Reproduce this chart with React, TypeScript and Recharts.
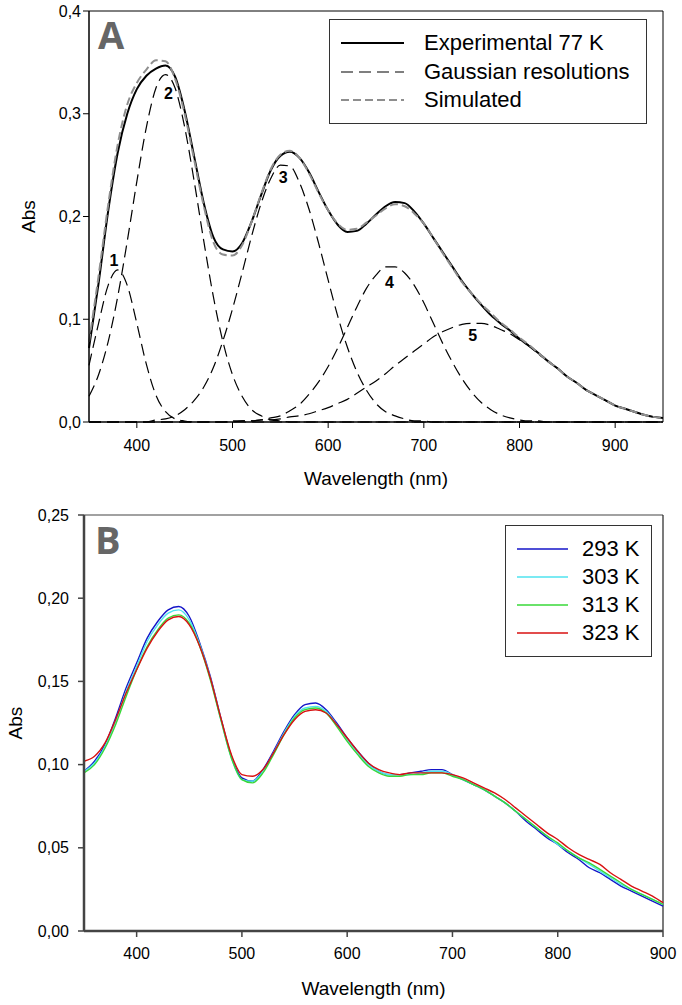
import React from 'react';
import { LineChart, Line, XAxis, YAxis, ReferenceLine, ReferenceDot, Label } from 'recharts';

// Panel A: 77 K spectrum and its gaussian resolution
const wlA = [
  350, 360, 370, 380, 390, 400, 410, 420, 430, 440,
  450, 460, 470, 480, 490, 500, 510, 520, 530, 540,
  550, 560, 570, 580, 590, 600, 610, 620, 630, 640,
  650, 660, 670, 680, 690, 700, 710, 720, 730, 740,
  750, 760, 770, 780, 790, 800, 810, 820, 830, 840,
  850, 860, 870, 880, 890, 900, 910, 920, 930, 940,
  950,
];
const expA = [
  0.072, 0.135, 0.205, 0.262, 0.300, 0.324, 0.337, 0.344, 0.347, 0.336,
  0.303, 0.258, 0.213, 0.180, 0.168, 0.166, 0.174, 0.195, 0.221, 0.245,
  0.259, 0.263, 0.257, 0.243, 0.224, 0.206, 0.192, 0.185, 0.186, 0.193,
  0.202, 0.210, 0.214, 0.213, 0.205, 0.193, 0.179, 0.165, 0.151, 0.137,
  0.125, 0.114, 0.104, 0.096, 0.089, 0.081, 0.074, 0.067, 0.059, 0.052,
  0.044, 0.038, 0.031, 0.026, 0.021, 0.016, 0.013, 0.010, 0.007, 0.005,
  0.004,
];
const simA = [
  0.078, 0.142, 0.211, 0.270, 0.309, 0.330, 0.343, 0.352, 0.351, 0.334,
  0.300, 0.255, 0.210, 0.175, 0.163, 0.162, 0.172, 0.195, 0.222, 0.246,
  0.260, 0.264, 0.257, 0.242, 0.223, 0.206, 0.193, 0.187, 0.188, 0.194,
  0.201, 0.208, 0.212, 0.210, 0.203, 0.193, 0.179, 0.164, 0.150, 0.136,
  0.125, 0.115, 0.106, 0.097, 0.090, 0.082, 0.075, 0.067, 0.059, 0.052,
  0.044, 0.038, 0.031, 0.026, 0.021, 0.016, 0.013, 0.010, 0.007, 0.005,
  0.004,
];
const g1 = [
  0.055, 0.096, 0.133, 0.148, 0.133, 0.096, 0.056, 0.026, 0.010, 0.003,
  0.001, 0, 0, 0, 0, 0, 0, 0, 0, 0,
  0, 0, 0, 0, 0, 0, 0, 0, 0, 0,
  0, 0, 0, 0, 0, 0, 0, 0, 0, 0,
  0, 0, 0, 0, 0, 0, 0, 0, 0, 0,
  0, 0, 0, 0, 0, 0, 0, 0, 0, 0,
  0,
];
const g2 = [
  0.025, 0.046, 0.078, 0.122, 0.176, 0.234, 0.287, 0.325, 0.338, 0.325,
  0.287, 0.234, 0.176, 0.122, 0.078, 0.046, 0.025, 0.012, 0.006, 0.002,
  0.001, 0, 0, 0, 0, 0, 0, 0, 0, 0,
  0, 0, 0, 0, 0, 0, 0, 0, 0, 0,
  0, 0, 0, 0, 0, 0, 0, 0, 0, 0,
  0, 0, 0, 0, 0, 0, 0, 0, 0, 0,
  0,
];
const g3 = [
  0, 0, 0, 0, 0, 0, 0, 0.002, 0.003, 0.006,
  0.012, 0.021, 0.034, 0.053, 0.079, 0.110, 0.145, 0.181, 0.213, 0.237,
  0.250, 0.249, 0.233, 0.207, 0.174, 0.138, 0.103, 0.073, 0.049, 0.031,
  0.018, 0.010, 0.006, 0.003, 0.001, 0.001, 0, 0, 0, 0,
  0, 0, 0, 0, 0, 0, 0, 0, 0, 0,
  0, 0, 0, 0, 0, 0, 0, 0, 0, 0,
  0,
];
const g4 = [
  0, 0, 0, 0, 0, 0, 0, 0, 0, 0,
  0, 0, 0, 0, 0, 0, 0.001, 0.001, 0.002, 0.004,
  0.006, 0.011, 0.017, 0.027, 0.039, 0.054, 0.072, 0.092, 0.112, 0.130,
  0.143, 0.151, 0.151, 0.145, 0.133, 0.116, 0.096, 0.076, 0.058, 0.042,
  0.029, 0.019, 0.012, 0.007, 0.004, 0.002, 0.001, 0.001, 0, 0,
  0, 0, 0, 0, 0, 0, 0, 0, 0, 0,
  0,
];
const g5 = [
  0, 0, 0, 0, 0, 0, 0, 0, 0, 0,
  0, 0, 0, 0, 0, 0.001, 0.001, 0.001, 0.002, 0.002,
  0.003, 0.005, 0.006, 0.008, 0.011, 0.014, 0.018, 0.022, 0.028, 0.034,
  0.040, 0.047, 0.055, 0.062, 0.069, 0.076, 0.083, 0.088, 0.092, 0.095,
  0.096, 0.096, 0.094, 0.090, 0.086, 0.080, 0.074, 0.066, 0.059, 0.052,
  0.044, 0.038, 0.031, 0.026, 0.021, 0.016, 0.013, 0.010, 0.007, 0.005,
  0.004,
];
const peakNames = ['1', '2', '3', '4', '5'];
const peakWl = [376, 433, 553, 664, 751];
const peakAbs = [0.157, 0.320, 0.238, 0.136, 0.084];

const xTicksA = [400, 500, 600, 700, 800, 900];
const yTicksA = [0, 0.1, 0.2, 0.3, 0.4];

// Panel B: temperature series
const wlB = [
  350, 360, 370, 380, 390, 400, 410, 420, 430, 440,
  450, 460, 470, 480, 490, 500, 510, 520, 530, 540,
  550, 560, 570, 580, 590, 600, 610, 620, 630, 640,
  650, 660, 670, 680, 690, 700, 710, 720, 730, 740,
  750, 760, 770, 780, 790, 800, 810, 820, 830, 840,
  850, 860, 870, 880, 890, 900,
];
const abs293 = [
  0.096, 0.102, 0.112, 0.128, 0.146, 0.161, 0.176, 0.186, 0.193, 0.195,
  0.189, 0.173, 0.153, 0.128, 0.105, 0.092, 0.090, 0.097, 0.108, 0.120,
  0.130, 0.136, 0.137, 0.133, 0.125, 0.116, 0.108, 0.101, 0.096, 0.094,
  0.094, 0.095, 0.096, 0.097, 0.097, 0.094, 0.091, 0.088, 0.085, 0.081,
  0.077, 0.072, 0.066, 0.061, 0.056, 0.052, 0.047, 0.043, 0.038, 0.035,
  0.031, 0.027, 0.024, 0.021, 0.018, 0.015,
];
const abs303 = [
  0.096, 0.101, 0.111, 0.126, 0.144, 0.159, 0.174, 0.184, 0.191, 0.193,
  0.187, 0.172, 0.152, 0.127, 0.104, 0.091, 0.090, 0.096, 0.107, 0.119,
  0.129, 0.134, 0.135, 0.132, 0.124, 0.115, 0.107, 0.100, 0.096, 0.094,
  0.094, 0.094, 0.095, 0.096, 0.096, 0.094, 0.091, 0.088, 0.085, 0.081,
  0.077, 0.072, 0.067, 0.062, 0.057, 0.052, 0.048, 0.044, 0.040, 0.036,
  0.032, 0.028, 0.025, 0.022, 0.019, 0.016,
];
const abs313 = [
  0.095, 0.100, 0.110, 0.124, 0.141, 0.157, 0.171, 0.181, 0.188, 0.190,
  0.185, 0.171, 0.151, 0.127, 0.104, 0.091, 0.089, 0.095, 0.106, 0.118,
  0.128, 0.133, 0.134, 0.131, 0.123, 0.114, 0.106, 0.099, 0.095, 0.093,
  0.093, 0.094, 0.094, 0.095, 0.095, 0.093, 0.091, 0.088, 0.085, 0.081,
  0.077, 0.072, 0.067, 0.062, 0.057, 0.053, 0.048, 0.044, 0.041, 0.037,
  0.033, 0.029, 0.025, 0.022, 0.019, 0.016,
];
const abs323 = [
  0.102, 0.105, 0.113, 0.127, 0.143, 0.157, 0.170, 0.180, 0.187, 0.189,
  0.184, 0.171, 0.152, 0.128, 0.106, 0.094, 0.093, 0.097, 0.107, 0.118,
  0.127, 0.132, 0.133, 0.131, 0.124, 0.116, 0.108, 0.101, 0.097, 0.095,
  0.094, 0.095, 0.095, 0.095, 0.095, 0.094, 0.092, 0.089, 0.086, 0.083,
  0.079, 0.074, 0.069, 0.064, 0.059, 0.055, 0.050, 0.046, 0.043, 0.040,
  0.035, 0.031, 0.027, 0.024, 0.021, 0.017,
];
const seriesB = ['293 K', '303 K', '313 K', '323 K'];
const colorsB = ['#1515c8', '#4fe3ef', '#38d838', '#d81010'];

const xTicksB = [400, 500, 600, 700, 800, 900];
const yTicksB = [0, 0.05, 0.1, 0.15, 0.2, 0.25];

const rowsA = wlA.map((wl, i) => ({
  wl, exp: expA[i], sim: simA[i], g1: g1[i], g2: g2[i], g3: g3[i], g4: g4[i], g5: g5[i],
}));
const rowsB = wlB.map((wl, i) => ({
  wl, k293: abs293[i], k303: abs303[i], k313: abs313[i], k323: abs323[i],
}));
const keysB = ['k293', 'k303', 'k313', 'k323'];

const FONT = '"Liberation Sans", Arial, sans-serif';
const tick = { fill: '#000', fontSize: 16, fontFamily: FONT };
const titleStyle = { fontSize: 19, fontFamily: FONT, fill: '#000' };
const comma = (d: number) => (v: number) => v.toFixed(d).replace('.', ',');

const GAUSS_DASH = '12 6';
const SIM_DASH = '8 4';
const SIM_COLOR = '#8e8e8e';

const panelLetter: React.CSSProperties = {
  position: 'absolute',
  fontFamily: '"Open Sans", "Noto Sans", sans-serif',
  fontWeight: 700,
  fontSize: 38,
  lineHeight: 1,
  color: '#666',
};

const legendText: React.CSSProperties = { fontFamily: FONT, fontSize: 22, color: '#000', whiteSpace: 'nowrap' };

export default function App() {
  const legendA = [
    { label: 'Experimental 77 K', color: '#000', dash: undefined, w: 2 },
    { label: 'Gaussian resolutions', color: '#000', dash: GAUSS_DASH, w: 1.2 },
    { label: 'Simulated', color: SIM_COLOR, dash: SIM_DASH, w: 2 },
  ];

  return (
    <div style={{ position: 'absolute', left: 0, top: 0, width: 682, height: 1005, background: '#fff' }}>
      {/* Panel A */}
      <div style={{ position: 'absolute', left: 0, top: 0 }}>
        <LineChart width={682} height={500} data={rowsA} margin={{ top: 11, right: 19, bottom: 0, left: 0 }}>
          <XAxis
            dataKey="wl"
            type="number"
            domain={[350, 950]}
            ticks={xTicksA}
            height={78}
            axisLine={{ stroke: '#000', strokeWidth: 1.5 }}
            tickLine={{ stroke: '#000' }}
            tickSize={6}
            tickMargin={12}
            tick={tick}
          >
            <Label value="Wavelength (nm)" position="insideBottom" offset={15} style={titleStyle} />
          </XAxis>
          <YAxis
            type="number"
            domain={[0, 0.4]}
            ticks={yTicksA}
            tickFormatter={comma(1)}
            width={89}
            axisLine={{ stroke: '#000', strokeWidth: 1.5 }}
            tickLine={{ stroke: '#000' }}
            tickSize={6}
            tick={tick}
          >
            <Label value="Abs" angle={-90} position="insideLeft" offset={28} style={{ ...titleStyle, textAnchor: 'middle' }} />
          </YAxis>
          <ReferenceLine y={0.4} stroke="#000" strokeWidth={1} />
          <ReferenceLine x={950} stroke="#000" strokeWidth={1} />
          {['g1', 'g2', 'g3', 'g4', 'g5'].map((k) => (
            <Line key={k} type="monotone" dataKey={k} stroke="#000" strokeWidth={1.2} strokeDasharray={GAUSS_DASH} dot={false} isAnimationActive={false} />
          ))}
          <Line type="monotone" dataKey="exp" stroke="#000" strokeWidth={2} dot={false} isAnimationActive={false} />
          <Line type="monotone" dataKey="sim" stroke={SIM_COLOR} strokeWidth={2} strokeDasharray={SIM_DASH} dot={false} isAnimationActive={false} />
          {peakNames.map((name, i) => (
            <ReferenceDot
              key={name}
              x={peakWl[i]}
              y={peakAbs[i]}
              r={0}
              fill="none"
              stroke="none"
              label={{ value: name, position: 'center', style: { fontFamily: FONT, fontSize: 16, fontWeight: 700, fill: '#000' } }}
            />
          ))}
        </LineChart>
        <div style={{ ...panelLetter, left: 98, top: 15 }}>A</div>
        <div
          style={{
            position: 'absolute', left: 329, top: 19, width: 318, height: 105, boxSizing: 'border-box',
            border: '1px solid #333', background: '#fff', paddingTop: 9,
          }}
        >
          {legendA.map((e) => (
            <div key={e.label} style={{ display: 'flex', alignItems: 'center', height: 28.5 }}>
              <svg width={94} height={10} style={{ flex: 'none' }}>
                <line x1={11} x2={74} y1={5} y2={5} stroke={e.color} strokeWidth={e.w} strokeDasharray={e.dash} />
              </svg>
              <span style={legendText}>{e.label}</span>
            </div>
          ))}
        </div>
      </div>

      {/* Panel B */}
      <div style={{ position: 'absolute', left: 0, top: 490 }}>
        <LineChart width={682} height={515} data={rowsB} margin={{ top: 25, right: 19, bottom: 0, left: 0 }}>
          <XAxis
            dataKey="wl"
            type="number"
            domain={[350, 900]}
            ticks={xTicksB}
            height={74}
            axisLine={{ stroke: '#444', strokeWidth: 2.5 }}
            tickLine={{ stroke: '#444', strokeWidth: 1.5 }}
            tickSize={6}
            tickMargin={11}
            tick={tick}
          >
            <Label value="Wavelength (nm)" position="insideBottom" offset={10} style={titleStyle} />
          </XAxis>
          <YAxis
            type="number"
            domain={[0, 0.25]}
            ticks={yTicksB}
            tickFormatter={comma(2)}
            width={84}
            axisLine={{ stroke: '#444', strokeWidth: 2.5 }}
            tickLine={{ stroke: '#444', strokeWidth: 1.5 }}
            tickSize={6}
            tickMargin={9}
            tick={tick}
          >
            <Label value="Abs" angle={-90} position="insideLeft" offset={15} style={{ ...titleStyle, textAnchor: 'middle' }} />
          </YAxis>
          <ReferenceLine y={0.25} stroke="#444" strokeWidth={1.2} />
          <ReferenceLine x={900} stroke="#222" strokeWidth={1.2} />
          {keysB.map((k, i) => (
            <Line key={k} type="monotone" dataKey={k} stroke={colorsB[i]} strokeWidth={1.4} dot={false} isAnimationActive={false} />
          ))}
        </LineChart>
        <div style={{ ...panelLetter, left: 95, top: 30 }}>B</div>
        <div
          style={{
            position: 'absolute', left: 505, top: 35, width: 147, height: 132, boxSizing: 'border-box',
            border: '1px solid #333', background: '#fff', paddingTop: 9,
          }}
        >
          {seriesB.map((name, i) => (
            <div key={name} style={{ display: 'flex', alignItems: 'center', height: 28 }}>
              <svg width={76} height={10} style={{ flex: 'none' }}>
                <line x1={11} x2={62} y1={5} y2={5} stroke={colorsB[i]} strokeWidth={1.4} />
              </svg>
              <span style={legendText}>{name}</span>
            </div>
          ))}
        </div>
      </div>
    </div>
  );
}
